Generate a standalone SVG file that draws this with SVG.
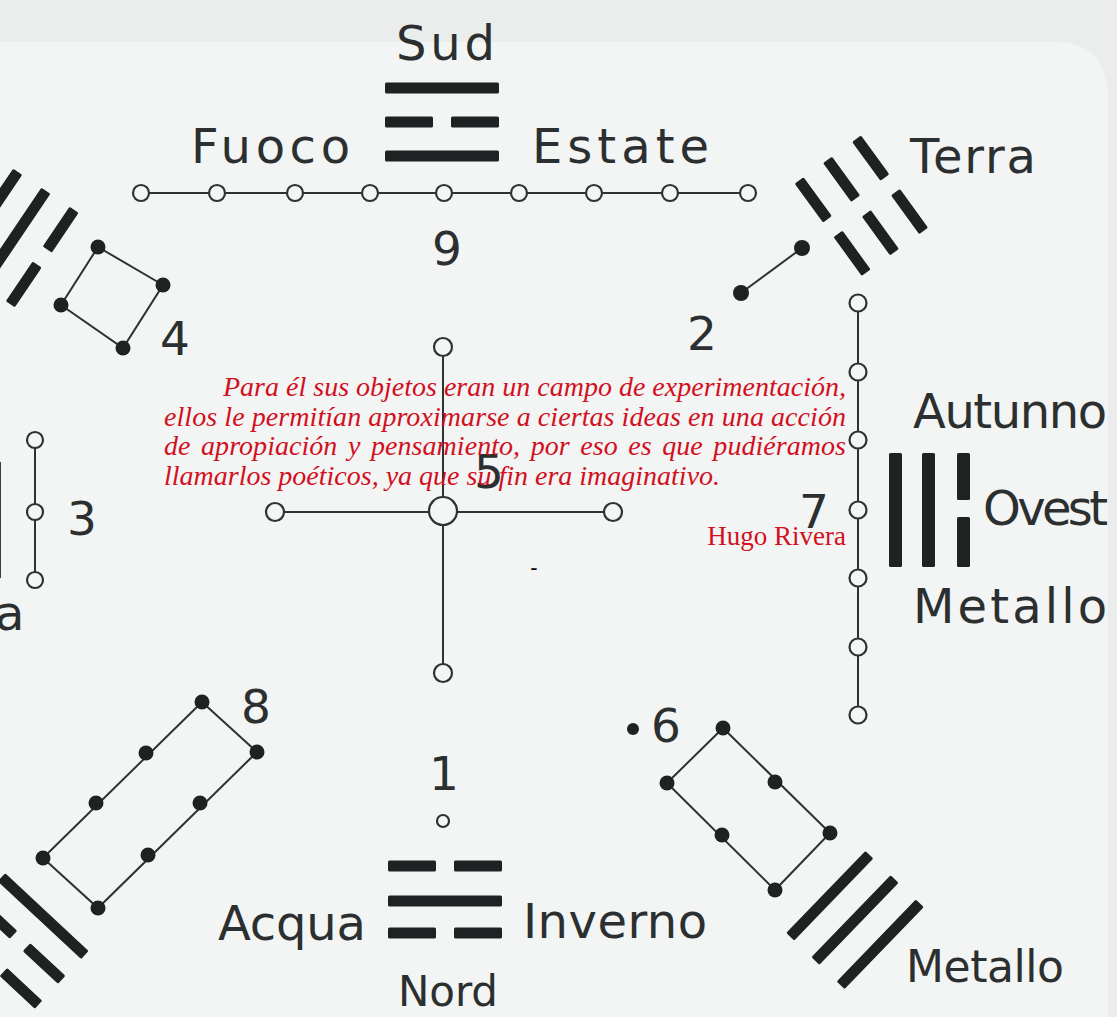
<svg xmlns="http://www.w3.org/2000/svg" width="1117" height="1017" viewBox="0 0 1117 1017">
<defs>
<style>
.lbl{font-family:"DejaVu Sans","Liberation Sans",sans-serif;font-size:48px;fill:#2c2f2f}
.num{font-family:"DejaVu Sans","Liberation Sans",sans-serif;font-size:47px;fill:#2c2f2f;text-anchor:middle}
.bar{fill:#1f2222}
.ln{stroke:#2e3232;stroke-width:2;fill:none}
.oc{fill:#f4f5f5;stroke:#2e3232;stroke-width:2.2}
.fd{fill:#1f2222}
.quote{font-family:"Liberation Serif","Times New Roman",serif;font-style:italic;font-size:28px;fill:#d2101e}
.sig{font-family:"Liberation Serif","Times New Roman",serif;font-size:27px;fill:#d2101e}
</style>
<g id="solid"><rect class="bar" x="-57" y="-5.5" width="114" height="11" rx="1.5"/></g>
<g id="broken"><rect class="bar" x="-57" y="-5.5" width="48" height="11" rx="1.5"/><rect class="bar" x="9" y="-5.5" width="48" height="11" rx="1.5"/></g>
</defs>

<rect x="0" y="0" width="1117" height="1017" fill="#ebecec"/>
<path d="M0,42 H1055 Q1108,42 1108,100 V1017 H0 Z" fill="#f3f4f4"/>

<g id="connectors">
<line class="ln" x1="141" y1="193" x2="748" y2="193" stroke-width="1.6"/>
<polyline class="ln" points="98,247 163,285 123,348 61,305 98,247" stroke-width="1.8"/>
<line class="ln" x1="802" y1="248" x2="741" y2="293" stroke-width="2.2"/>
<line class="ln" x1="858" y1="303" x2="858" y2="715"/>
<line class="ln" x1="35" y1="440" x2="35" y2="580"/>
<line class="ln" x1="443" y1="347" x2="443" y2="673" stroke-width="2.6"/>
<line class="ln" x1="275" y1="512" x2="613" y2="512" stroke-width="2.6"/>
<polyline class="ln" points="202,702 257,752 98,908 43,858 202,702" stroke-width="1.8"/>
<polyline class="ln" points="723,728 830,833 775,890 667,783 723,728" stroke-width="1.8"/>
</g>

<g id="node-sud">
<text class="lbl" x="396" y="60" textLength="99">Sud</text>
<use href="#solid" transform="translate(442,88)"/>
<use href="#broken" transform="translate(442,122)"/>
<use href="#solid" transform="translate(442,156)"/>
<text class="lbl" x="191" y="163" textLength="159">Fuoco</text>
<text class="lbl" x="532" y="163" textLength="177">Estate</text>
</g>

<g id="node-9">
<circle class="oc" cx="141" cy="193" r="8"/>
<circle class="oc" cx="217" cy="193" r="8"/>
<circle class="oc" cx="295" cy="193" r="8"/>
<circle class="oc" cx="370" cy="193" r="8"/>
<circle class="oc" cx="444" cy="193" r="8"/>
<circle class="oc" cx="519" cy="193" r="8"/>
<circle class="oc" cx="594" cy="193" r="8"/>
<circle class="oc" cx="670" cy="193" r="8"/>
<circle class="oc" cx="748" cy="193" r="8"/>
<text class="num" x="447" y="265">9</text>
</g>

<g id="node-xun">
<g transform="translate(14,238) rotate(-56)">
<use href="#solid" y="-34"/>
<use href="#solid" y="0"/>
<use href="#broken" y="34"/>
</g>
</g>

<g id="node-4">
<circle class="fd" cx="98" cy="247" r="7.5"/>
<circle class="fd" cx="163" cy="285" r="7.5"/>
<circle class="fd" cx="123" cy="348" r="7.5"/>
<circle class="fd" cx="61" cy="305" r="7.5"/>
<text class="num" x="175" y="355">4</text>
</g>

<g id="node-terra">
<g transform="translate(861,206) rotate(54)">
<use href="#broken" y="-36"/>
<use href="#broken" y="0"/>
<use href="#broken" y="35"/>
</g>
<text class="lbl" x="910" y="173" textLength="126">Terra</text>
</g>

<g id="node-2">
<circle class="fd" cx="802" cy="248" r="8"/>
<circle class="fd" cx="741" cy="293" r="8"/>
<text class="num" x="702" y="350">2</text>
</g>

<g id="node-3">
<rect x="-9" y="462" width="10" height="116" fill="#3a3d3d"/>
<circle class="oc" cx="35" cy="440" r="8"/>
<circle class="oc" cx="35" cy="512" r="8"/>
<circle class="oc" cx="35" cy="580" r="8"/>
<text class="num" x="82" y="535">3</text>
<text class="lbl" x="-5" y="630">a</text>
</g>

<g id="node-5">
<circle class="oc" cx="443" cy="347" r="9"/>
<circle class="oc" cx="275" cy="512" r="9"/>
<circle class="oc" cx="613" cy="512" r="9"/>
<circle class="oc" cx="443" cy="673" r="9"/>
<circle class="oc" cx="443" cy="511" r="14"/>
<text class="num" x="489" y="488">5</text>
</g>

<g id="node-7">
<circle class="oc" cx="858" cy="303" r="8.5"/>
<circle class="oc" cx="858" cy="372" r="8.5"/>
<circle class="oc" cx="858" cy="440" r="8.5"/>
<circle class="oc" cx="858" cy="510" r="8.5"/>
<circle class="oc" cx="858" cy="578" r="8.5"/>
<circle class="oc" cx="858" cy="647" r="8.5"/>
<circle class="oc" cx="858" cy="715" r="8.5"/>
<text class="num" x="814" y="528">7</text>
</g>

<g id="node-ovest">
<rect class="bar" x="889" y="453" width="13" height="114" rx="1.5"/>
<rect class="bar" x="922" y="453" width="13" height="114" rx="1.5"/>
<rect class="bar" x="957" y="453" width="13" height="47" rx="1.5"/>
<rect class="bar" x="957" y="517" width="13" height="50" rx="1.5"/>
<text class="lbl" x="913" y="428" textLength="194">Autunno</text>
<text class="lbl" x="983" y="525" textLength="125">Ovest</text>
<text class="lbl" x="913" y="623" textLength="194">Metallo</text>
</g>

<g id="node-8">
<circle class="fd" cx="202" cy="702" r="7.5"/>
<circle class="fd" cx="257" cy="752" r="7.5"/>
<circle class="fd" cx="146" cy="753" r="7.5"/>
<circle class="fd" cx="200" cy="803" r="7.5"/>
<circle class="fd" cx="96" cy="803" r="7.5"/>
<circle class="fd" cx="148" cy="855" r="7.5"/>
<circle class="fd" cx="43" cy="858" r="7.5"/>
<circle class="fd" cx="98" cy="908" r="7.5"/>
<text class="num" x="256" y="723">8</text>
</g>

<g id="node-gen">
<g transform="translate(20,941) rotate(43)">
<use href="#solid" y="-34"/>
<use href="#broken" y="0"/>
<use href="#broken" y="34"/>
</g>
</g>

<g id="node-1">
<circle class="oc" cx="443" cy="821" r="6" stroke-width="1.8"/>
<text class="num" x="444" y="790">1</text>
</g>

<g id="node-nord">
<g transform="translate(445,0)">
<use href="#broken" y="866"/>
<use href="#solid" y="901"/>
<use href="#broken" y="933"/>
</g>
<text class="lbl" x="218" y="940" textLength="148">Acqua</text>
<text class="lbl" x="523" y="938" textLength="184">Inverno</text>
<text class="lbl" x="398" y="1006" style="font-size:42px" textLength="100">Nord</text>
</g>

<g id="node-6">
<circle class="fd" cx="633" cy="729" r="6"/>
<text class="num" x="666" y="742">6</text>
<circle class="fd" cx="723" cy="728" r="7.5"/>
<circle class="fd" cx="775" cy="782" r="7.5"/>
<circle class="fd" cx="830" cy="833" r="7.5"/>
<circle class="fd" cx="667" cy="783" r="7.5"/>
<circle class="fd" cx="722" cy="835" r="7.5"/>
<circle class="fd" cx="775" cy="890" r="7.5"/>
</g>

<g id="node-qian">
<g transform="translate(855,920) rotate(-46)">
<use href="#solid" y="-35"/>
<use href="#solid" y="0"/>
<use href="#solid" y="35"/>
</g>
<text class="lbl" x="906" y="982" style="font-size:44px" textLength="158">Metallo</text>
</g>

<g id="quote">
<text class="quote" x="223" y="396" textLength="623" lengthAdjust="spacing">Para él sus objetos eran un campo de experimentación,</text>
<text class="quote" x="164" y="425.5" textLength="682" lengthAdjust="spacing">ellos le permitían aproximarse a ciertas ideas en una acción</text>
<text class="quote" x="164" y="455" textLength="682" lengthAdjust="spacing" word-spacing="3.5">de apropiación y pensamiento, por eso es que pudiéramos</text>
<text class="quote" x="164" y="484.5">llamarlos poéticos, ya que su fin era imaginativo.</text>
<text class="sig" x="846" y="545" text-anchor="end">Hugo Rivera</text>
<text x="534" y="575" font-family="Liberation Sans, sans-serif" font-size="22" fill="#000" text-anchor="middle">-</text>
</g>
</svg>
